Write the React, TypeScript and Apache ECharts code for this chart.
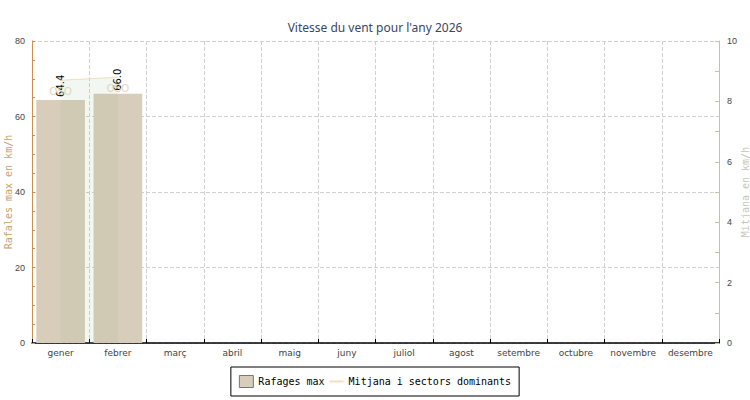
import React, { useEffect, useRef } from "react";
import * as echarts from "echarts";

const months = ["gener", "febrer", "març", "abril", "maig", "juny", "juliol", "agost", "setembre", "octubre", "novembre", "desembre"];
const gustMax = [64.4, 66.0, null, null, null, null, null, null, null, null, null, null];
const meanWind = [8.7, 8.8, null, null, null, null, null, null, null, null, null, null];
const sectors = ["OSO", "OSO", "", "", "", "", "", "", "", "", "", ""];

export default function App() {
  const ref = useRef<HTMLDivElement>(null);
  useEffect(() => {
    if (!ref.current) return;
    const chart = echarts.init(ref.current, null, { renderer: "svg" });
    const mono = "'DejaVu Sans Mono', monospace";
    chart.setOption({
      animation: false,
      backgroundColor: "#ffffff",
      title: {
        text: "Vitesse du vent pour l'any 2026",
        left: "center",
        top: 16,
        textStyle: { fontFamily: "'Noto Sans', sans-serif", fontSize: 12, fontWeight: "normal", color: "#3b4663" },
      },
      legend: {
        bottom: 4,
        left: "center",
        borderColor: "#000",
        borderWidth: 1,
        padding: [8, 8, 8, 8],
        itemGap: 4,
        itemWidth: 14,
        itemHeight: 12,
        textStyle: { fontFamily: mono, fontSize: 10, color: "#000" },
        data: [
          { name: "Rafages max", icon: "rect", itemStyle: { borderColor: "#777", borderWidth: 1 } },
          { name: "Mitjana i sectors dominants", itemStyle: { opacity: 0 } },
        ],
      },
      grid: { left: 32, right: 31, top: 41, bottom: 57, containLabel: false, outerBoundsMode: "none" },
      xAxis: {
        type: "category",
        data: months,
        boundaryGap: true,
        axisLine: { show: true, lineStyle: { color: "#000", width: 1.5 } },
        axisTick: { show: true, inside: true, length: 4, interval: 0, lineStyle: { color: "#000" } },
        axisLabel: { fontSize: 9, color: "#444", margin: 5, interval: 0, fontFamily: "'DejaVu Sans', sans-serif" },
        splitLine: { show: true, interval: 0, lineStyle: { color: "#d0d0d0", type: "dashed" } },
      },
      yAxis: [
        {
          type: "value",
          min: 0,
          max: 80,
          interval: 20,
          name: "Rafales max en km/h",
          nameLocation: "middle",
          nameGap: 19,
          nameMoveOverlap: false,
          nameTextStyle: { fontFamily: mono, fontSize: 10, color: "#c9a06c" },
          axisLine: { show: true, lineStyle: { color: "#cc9050" } },
          axisTick: { show: true, inside: true, length: 3, lineStyle: { color: "#cc9050" } },
          minorTick: { show: true, splitNumber: 4, length: 3, lineStyle: { color: "#cc9050" } },
          axisLabel: { fontSize: 9, color: "#444", margin: 7 },
          splitLine: { show: true, lineStyle: { color: "#d0d0d0", type: "dashed" } },
        },
        {
          type: "value",
          min: 0,
          max: 10,
          interval: 2,
          position: "right",
          name: "Mitjana en km/h",
          nameLocation: "middle",
          nameGap: 21,
          nameMoveOverlap: false,
          nameTextStyle: { fontFamily: mono, fontSize: 10, color: "#c8c6b8" },
          axisLine: { show: true, lineStyle: { color: "#c8c0a8" } },
          axisTick: { show: true, inside: true, length: 4, lineStyle: { color: "#c8c0a8" } },
          minorTick: { show: true, splitNumber: 2, length: 4, lineStyle: { color: "#c8c0a8" } },
          axisLabel: { fontSize: 9, color: "#444", margin: 8 },
          splitLine: { show: false },
        },
      ],
      series: [
        {
          name: "Rafages max",
          type: "bar",
          yAxisIndex: 0,
          data: gustMax,
          barWidth: "85%",
          itemStyle: { color: "#d8cdba" },
          z: 2,
          label: {
            show: true,
            position: "top",
            rotate: 90,
            align: "left",
            verticalAlign: "middle",
            distance: 3,
            fontSize: 10,
            color: "#000",
            fontFamily: "'DejaVu Sans', sans-serif",
            formatter: (p: any) => (p.value == null ? "" : Number(p.value).toFixed(1)),
          },
        },
        {
          name: "Mitjana i sectors dominants",
          type: "line",
          yAxisIndex: 1,
          data: meanWind,
          symbol: "circle",
          symbolSize: 0.1,
          showSymbol: true,
          itemStyle: { color: "#f0dfc0" },
          lineStyle: { color: "#f0dfc0", width: 1 },
          areaStyle: { color: "rgba(150,185,140,0.17)" },
          z: 3,
          label: {
            show: true,
            position: "bottom",
            distance: 6,
            fontSize: 10,
            color: "#ddd2b8",
            formatter: (p: any) => sectors[p.dataIndex] || "",
          },
        },
      ],
    });
    return () => chart.dispose();
  }, []);
  return <div ref={ref} style={{ width: 750, height: 400, position: "absolute", left: 0, top: 0 }} />;
}
